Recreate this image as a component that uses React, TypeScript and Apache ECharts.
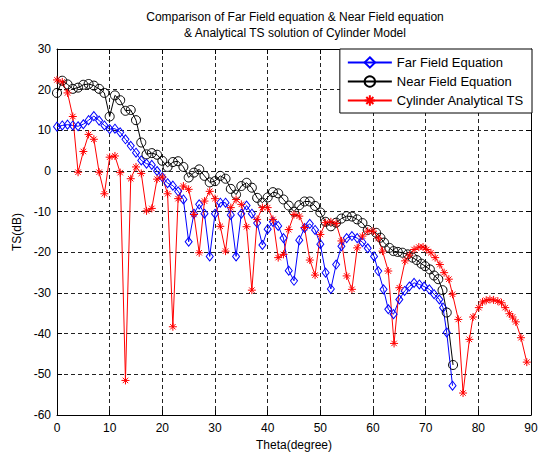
import { useEffect, useRef } from "react";
import * as echarts from "echarts";

// Theta (degree) sample positions
const thetaEarly = [
  0, 1, 2, 3, 4, 5, 6, 7, 8, 9, 10, 11, 12, 13, 14, 15, 16, 17, 18, 19,
  20, 21, 22, 23, 24, 25, 26, 27, 28, 29, 30, 31, 32, 33, 34, 35, 36, 37, 38, 39,
  40, 41, 42, 43, 44, 45, 46, 47, 48, 49, 50, 51, 52, 53, 54, 55, 56, 57, 58, 59, 60,
];

// Far Field Equation (theta 0..59)
const farFieldEarly = [
  10.9, 11.2, 11.4, 11.2, 11.0, 11.5, 12.5, 13.5, 12.4, 11.2,
  10.3, 10.4, 9.5, 7.8, 6.2, 4.5, 2.6, 1.8, 1.5, 0.0,
  -1.5, -3.0, -3.6, -5.0, -7.0, -17.4, -10.5, -8.2, -10.5, -21.0,
  -10.5, -7.8, -7.8, -10.8, -21.0, -10.5, -8.5, -10.5, -12.8, -18.2,
  -14.3, -12.5, -13.5, -16.5, -24.5, -27.0, -17.0, -14.0, -13.0, -14.5,
  -18.0, -25.0, -29.0, -23.0, -18.5, -16.5, -16.0, -16.5, -17.5, -19.0,
];
const farFieldTailTheta = [60.2, 61.0, 62.0, 62.9, 63.9, 65.0, 66.0, 66.9, 67.8, 68.8, 69.7, 70.7, 71.6, 72.6, 73.3, 74.0, 75.1];
const farFieldTail = [-21.0, -24.6, -29.1, -34.0, -35.2, -31.6, -29.5, -28.4, -27.5, -27.9, -28.4, -29.1, -30.3, -31.6, -33.6, -39.7, -52.8];

// Near Field Equation (theta 0..59)
const nearFieldEarly = [
  19.2, 22.2, 21.3, 20.2, 20.5, 21.2, 21.4, 21.0, 20.2, 19.2,
  13.4, 18.6, 17.4, 14.8, 15.0, 12.5, 7.0, 4.1, 4.4, 4.0,
  2.5, 1.0, 2.2, 2.4, 1.0, -1.6, -0.4, 0.4, -1.2, -2.8,
  -2.5, -1.2, -1.9, -4.4, -5.8, -3.7, -2.9, -4.1, -6.6, -7.8,
  -6.5, -5.2, -5.5, -7.0, -8.5, -10.0, -8.4, -7.5, -7.5, -8.6,
  -10.2, -12.5, -13.6, -12.7, -11.7, -11.1, -11.2, -11.9, -12.8, -14.5,
];
const nearFieldTailTheta = [60.6, 61.4, 62.1, 63.1, 63.9, 64.7, 65.6, 66.6, 67.5, 68.3, 69.2, 69.9, 70.8, 71.6, 72.4, 73.2, 74.0, 75.2];
const nearFieldTail = [-15.2, -16.4, -17.6, -18.9, -19.7, -19.9, -20.1, -20.5, -21.3, -21.9, -22.8, -23.4, -24.2, -25.7, -26.6, -29.3, -34.8, -47.7];

// Cylinder Analytical TS (theta 0..60)
const cylinderEarly = [
  22.4, 21.9, 19.2, 13.4, -0.3, 4.8, 9.0, 7.8, -0.3, -5.6,
  3.4, 3.7, -0.4, -51.5, -1.9, 1.0, -0.6, -9.8, -9.2, -2.0,
  -1.5, -5.6, -38.3, -6.8, -3.7, -4.5, -10.7, -20.1, -7.4, -5.0,
  -6.8, -13.6, -19.7, -9.0, -7.0, -8.2, -13.7, -29.3, -11.9, -9.0,
  -9.0, -11.9, -21.3, -20.5, -14.4, -10.7, -11.1, -13.9, -21.9, -25.6,
  -15.6, -12.7, -12.5, -12.9, -17.2, -25.8, -29.1, -18.9, -16.0, -14.8, -14.8,
];
const cylinderTailTheta = [
  61.0, 61.8, 62.9, 64.0, 65.0, 66.1, 66.9, 67.8, 68.7, 69.5, 70.2, 71.0, 71.8, 72.7, 73.5, 74.4, 75.1,
  76.2, 77.1, 78.3, 79.0, 80.1, 80.8, 81.5, 82.2, 82.9, 83.7, 84.4, 85.1, 85.9, 86.5, 87.1, 88.1, 89.2,
];
const cylinderTail = [
  -16.5, -19.7, -24.6, -42.4, -28.7, -22.1, -20.7, -19.3, -18.7, -18.7, -19.3, -20.1, -21.3, -23.0, -25.0, -26.6, -30.3,
  -36.5, -54.6, -41.4, -35.9, -33.6, -32.2, -31.8, -31.6, -31.7, -32.0, -32.4, -33.6, -35.1, -35.9, -37.1, -41.0, -47.0,
];

const xTicks = { min: 0, max: 90, interval: 10 };
const yTicks = { min: -60, max: 30, interval: 10 };

const titleLines = [
  "Comparison of Far Field equation & Near Field equation",
  "& Analytical TS solution of Cylinder Model",
];
const seriesNames = ["Far Field Equation", "Near Field Equation", "Cylinder Analytical TS"];

const FONT = "'Liberation Sans', Arial, Helvetica, sans-serif";

function pairs(thetas: number[], vals: number[]) {
  return vals.map((v, i) => [thetas[i], v]);
}

const STAR = "path://M5 0 L5 10 M0 5 L10 5 M1.6 1.6 L8.4 8.4 M1.6 8.4 L8.4 1.6";

export default function App() {
  const ref = useRef<HTMLDivElement>(null);
  useEffect(() => {
    const chart = echarts.init(ref.current!, null, { renderer: "svg" });
    const axisCommon = {
      axisLine: { show: true, onZero: false, lineStyle: { color: "#000", width: 1 } },
      axisTick: { show: true, inside: true, length: 5, lineStyle: { color: "#000" } },
    };
    const farData = [
      ...pairs(thetaEarly, farFieldEarly),
      ...pairs(farFieldTailTheta, farFieldTail),
    ];
    const nearData = [
      ...pairs(thetaEarly, nearFieldEarly),
      ...pairs(nearFieldTailTheta, nearFieldTail),
    ];
    const cylData = [
      ...pairs(thetaEarly, cylinderEarly),
      ...pairs(cylinderTailTheta, cylinderTail),
    ];
    chart.setOption({
      animation: false,
      backgroundColor: "#fff",
      textStyle: { fontFamily: FONT },
      graphic: [
        {
          type: "text",
          x: 295,
          y: 11,
          style: { text: titleLines[0], fontSize: 12, fontFamily: FONT, fill: "#000", align: "center", verticalAlign: "top" },
        },
        {
          type: "text",
          x: 295,
          y: 27,
          style: { text: titleLines[1], fontSize: 12, fontFamily: FONT, fill: "#000", align: "center", verticalAlign: "top" },
        },
      ],
      grid: { left: 57, top: 49, width: 474, height: 366, containLabel: false },
      legend: {
        orient: "vertical",
        right: 9,
        top: 49,
        backgroundColor: "#fff",
        borderColor: "#000",
        borderWidth: 1,
        borderRadius: 0,
        padding: [7, 8, 6, 7],
        itemWidth: 44,
        itemHeight: 13,
        itemGap: 6,
        textStyle: { fontSize: 13, color: "#000", fontFamily: FONT },
        data: seriesNames,
      },
      xAxis: [
        {
          type: "value",
          ...xTicks,
          position: "bottom",
          ...axisCommon,
          axisLabel: { color: "#000", fontSize: 12, margin: 7, fontFamily: FONT },
          splitLine: { show: true, lineStyle: { color: "#222", type: [4, 3], width: 1 } },
          name: "Theta(degree)",
          nameLocation: "middle",
          nameGap: 24,
          nameTextStyle: { color: "#000", fontSize: 12, fontFamily: FONT },
        },
        {
          type: "value",
          ...xTicks,
          position: "top",
          ...axisCommon,
          axisLabel: { show: false },
          splitLine: { show: false },
        },
      ],
      yAxis: [
        {
          type: "value",
          ...yTicks,
          position: "left",
          ...axisCommon,
          axisLabel: { color: "#000", fontSize: 12, margin: 6, fontFamily: FONT },
          splitLine: { show: true, lineStyle: { color: "#222", type: [4, 3], width: 1 } },
          name: "TS(dB)",
          nameLocation: "middle",
          nameGap: 34,
          nameTextStyle: { color: "#000", fontSize: 12, fontFamily: FONT },
        },
        {
          type: "value",
          ...yTicks,
          position: "right",
          ...axisCommon,
          axisLabel: { show: false },
          splitLine: { show: false },
        },
      ],
      series: [
        {
          name: seriesNames[0],
          type: "line",
          data: farData,
          symbol: "diamond",
          symbolSize: [7, 9],
          showAllSymbol: true,
          lineStyle: { color: "#0000ff", width: 1 },
          itemStyle: { color: "rgba(0,0,0,0)", borderColor: "#0000ff", borderWidth: 1 },
          emphasis: { disabled: true },
        },
        {
          name: seriesNames[1],
          type: "line",
          data: nearData,
          symbol: "circle",
          symbolSize: 9,
          showAllSymbol: true,
          lineStyle: { color: "#000000", width: 1 },
          itemStyle: { color: "rgba(0,0,0,0)", borderColor: "#000000", borderWidth: 1 },
          emphasis: { disabled: true },
        },
        {
          name: seriesNames[2],
          type: "line",
          data: cylData,
          symbol: STAR,
          symbolSize: 8,
          showAllSymbol: true,
          lineStyle: { color: "#ff0000", width: 1 },
          itemStyle: { color: "rgba(0,0,0,0)", borderColor: "#ff0000", borderWidth: 1 },
          emphasis: { disabled: true },
        },
      ],
    });
    return () => chart.dispose();
  }, []);
  return (
    <div
      ref={ref}
      style={{ position: "fixed", left: 0, top: 0, width: 541, height: 459, background: "#fff" }}
    />
  );
}
